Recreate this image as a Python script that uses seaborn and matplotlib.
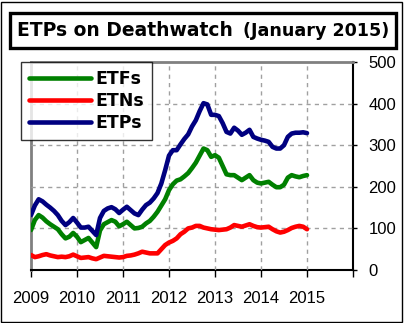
import numpy as np
import pandas as pd
import matplotlib
matplotlib.use("Agg")
import matplotlib.pyplot as plt
from matplotlib.patches import Rectangle
from matplotlib.lines import Line2D
import seaborn as sns

# ---- data (monthly, Jan 2009 .. Jan 2015) ----
series_names = ["ETFs", "ETNs", "ETPs"]
series_colors = ["#008000", "#ff0000", "#000080"]

etfs = [96, 120, 132, 126, 117, 110, 104, 98, 86, 76, 80, 89,
        80, 67, 72, 77, 66, 55, 95, 110, 115, 120, 116, 105,
        110, 116, 108, 100, 101, 104, 112, 118, 128, 140, 155, 170,
        192, 206, 215, 218, 225, 233, 245, 258, 275, 292, 288, 272,
        276, 270, 250, 230, 228, 228, 222, 216, 222, 228, 216, 210,
        208, 210, 212, 205, 199, 199, 205, 222, 228, 225, 223, 226,
        228]
etns = [36, 31, 33, 36, 38, 35, 33, 31, 32, 31, 33, 37,
        33, 29, 30, 31, 28, 26, 30, 34, 33, 32, 31, 30,
        31, 34, 35, 37, 40, 44, 42, 40, 40, 40, 50, 60,
        66, 70, 76, 86, 92, 100, 102, 106, 106, 102, 100, 98,
        97, 96, 97, 98, 102, 108, 106, 104, 107, 110, 106, 103,
        102, 103, 104, 98, 93, 90, 92, 96, 101, 104, 106, 104,
        98]
etps = [132, 155, 170, 165, 157, 150, 142, 132, 118, 108, 115, 125,
        114, 102, 102, 104, 94, 84, 125, 142, 148, 151, 146, 137,
        145, 152, 144, 136, 132, 145, 156, 162, 172, 185, 208, 240,
        275, 288, 288, 302, 315, 326, 345, 360, 382, 401, 398, 373,
        373, 370, 353, 332, 328, 342, 335, 325, 330, 337, 320, 316,
        313, 311, 308, 296, 292, 292, 300, 320, 328, 330, 330, 331,
        329]

x_ticks = [2009, 2010, 2011, 2012, 2013, 2014, 2015, 2016]
x_ticklabels = ["2009", "2010", "2011", "2012", "2013", "2014", "2015", ""]
y_ticks = [0, 100, 200, 300, 400, 500]

title_main = "ETPs on Deathwatch"
title_sub = "(January 2015)"

months = np.arange(len(etfs))
t = 2009 + months / 12.0
df = pd.DataFrame({
    "t": np.concatenate([t, t, t]),
    "value": np.concatenate([etfs, etns, etps]),
    "series": np.repeat(series_names, len(t)),
})

W, H = 404, 323
fig = plt.figure(figsize=(W / 100, H / 100), dpi=100)

ax = fig.add_axes([31 / W, 1 - 270 / H, (353 - 31) / W, (270 - 62) / H])

sns.lineplot(data=df, x="t", y="value", hue="series",
             palette=dict(zip(series_names, series_colors)),
             linewidth=3.3, ax=ax, legend=False, estimator=None, zorder=3)
for ln in ax.get_lines():
    ln.set_solid_capstyle("round")
    ln.set_solid_joinstyle("round")

ax.set_xlim(2009, 2016)
ax.set_ylim(0, 500)
ax.set_xlabel("")
ax.set_ylabel("")
ax.set_xticks(x_ticks)
ax.set_xticklabels(x_ticklabels)
ax.set_yticks(y_ticks)
ax.yaxis.tick_right()
ax.tick_params(axis="x", direction="out", length=5, width=1, colors="black",
               pad=10, labelsize=12)
ax.tick_params(axis="y", direction="out", length=3, width=1, colors="black",
               pad=8, labelsize=12)
for lab in ax.get_xticklabels() + ax.get_yticklabels():
    lab.set_family("Liberation Sans")
ax.spines["left"].set_color("#808080")
ax.spines["left"].set_linewidth(2)
ax.spines["top"].set_color("#808080")
ax.spines["top"].set_linewidth(2)
ax.spines["right"].set_color("black")
ax.spines["right"].set_linewidth(1.5)
ax.spines["bottom"].set_color("black")
ax.spines["bottom"].set_linewidth(1.5)

# legend
handles = [Line2D([0], [0], color=c, lw=3.3, solid_capstyle="round") for c in series_colors]
leg = fig.legend(handles, series_names, loc="upper left",
                 bbox_to_anchor=(21 / W, 1 - 62 / H),
                 frameon=True, fancybox=False, edgecolor="black",
                 handlelength=3.6, handletextpad=0.25, labelspacing=0.25,
                 borderpad=0.45, borderaxespad=0,
                 prop={"family": "DejaVu Sans", "weight": "bold", "size": 12.5})
leg.get_frame().set_linewidth(1.0)
leg.set_zorder(10)

# title box
fig.add_artist(Rectangle((10 / W, 1 - 48 / H), (396 - 10) / W, (48 - 13) / H,
                         transform=fig.transFigure, facecolor="none",
                         edgecolor="black", linewidth=2.4))
fig.text(17 / W, 1 - 30 / H, title_main, ha="left", va="center",
         fontsize=13.5, fontweight="bold", family="DejaVu Sans")
fig.text(389 / W, 1 - 30.5 / H, title_sub, ha="right", va="center",
         fontsize=12.6, fontweight="bold", family="DejaVu Sans")

# outer border
fig.add_artist(Rectangle((1 / W, 1 / H), (W - 3) / W, (H - 3) / H,
                         transform=fig.transFigure, facecolor="none",
                         edgecolor="black", linewidth=1.0))

# dashed grid at the inner tick positions, added last (below data lines)
ax.vlines(x_ticks[1:-1], 0, 500, colors="#a0a0a0", linestyles=(0, (3, 3)),
          linewidth=1.0, zorder=2.7)
ax.hlines(y_ticks[1:-1], 2009, 2016, colors="#a0a0a0", linestyles=(0, (3, 3)),
          linewidth=1.0, zorder=2.7)
ax.set_xlim(2009, 2016)
ax.set_ylim(0, 500)

fig.savefig("out.png", dpi=100, facecolor="white")
